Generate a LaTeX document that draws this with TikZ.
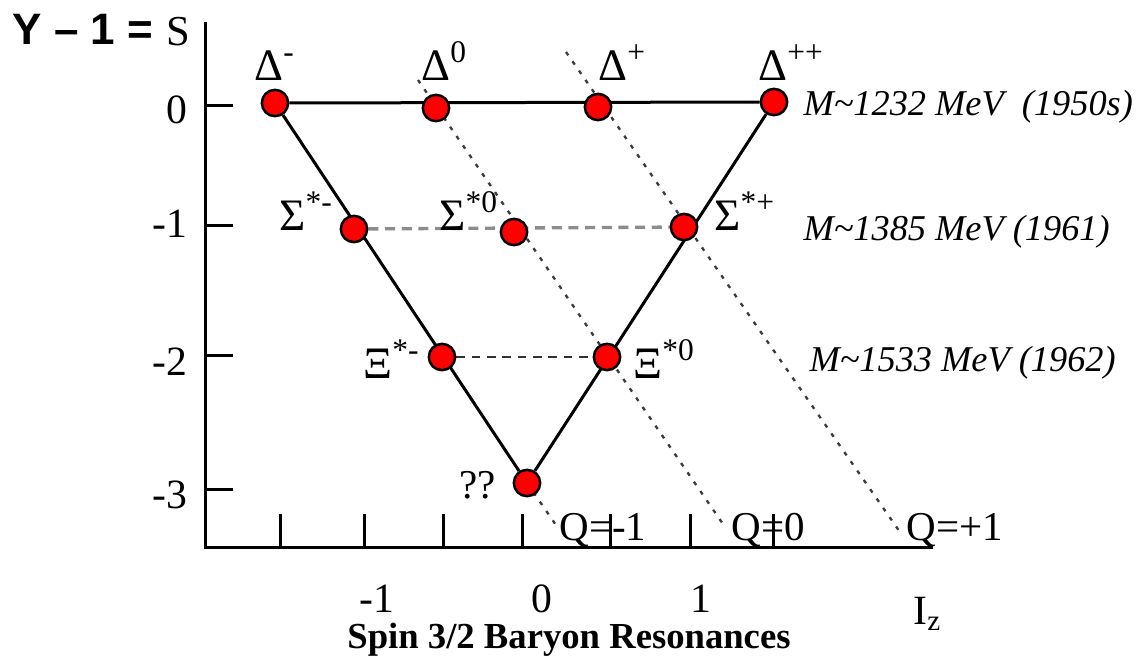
\documentclass[tikz,border=0pt]{standalone}
\usepackage{fontspec}
\setmainfont{Liberation Serif}
\newfontfamily\headfont{Liberation Sans}
\usetikzlibrary{backgrounds}
\definecolor{dotred}{RGB}{255,0,0}
\definecolor{dashgray}{RGB}{140,140,140}
\definecolor{qgray}{RGB}{60,60,60}
\tikzset{
  every picture/.style={line width=0.9pt},
  state/.style={circle, draw=black, fill=dotred, line width=0.75pt, minimum size=7.9pt, inner sep=0pt},
  side/.style={line width=0.9pt},
  sigrow/.style={dashgray, line width=1pt, dash pattern=on 3pt off 2pt},
  xirow/.style={black!80, line width=0.85pt, dash pattern=on 2.6pt off 2pt},
  qline/.style={qgray, line width=0.7pt, dash pattern=on 1.2pt off 2.2pt},
  part/.style={inner sep=0pt, anchor=base west, font=\fontsize{13.5}{14}\selectfont},
  mass/.style={inner sep=0pt, anchor=base west, font=\fontsize{10.9}{12}\selectfont\itshape},
  qlbl/.style={inner sep=0pt, anchor=base west, font=\fontsize{12.3}{13}\selectfont},
  num/.style={inner sep=0pt, font=\fontsize{12.5}{13}\selectfont},
}
\begin{document}
\begin{tikzpicture}[x=0.3pt, y=-0.3pt]
  \useasboundingbox (0,0) rectangle (1142,662);
  % axes
  \draw (205,22) -- (205,547) -- (933,547);
  \foreach \yy in {105,225,355,489} \draw (205,\yy) -- (233,\yy);
  \foreach \xx in {280,364,443,522,610,690,773} \draw (\xx,514) -- (\xx,547);
  \node[inner sep=0pt, anchor=base west, font=\headfont\bfseries\fontsize{13.2}{14}\selectfont] (ylbl) at (11,44) {Y – 1 =};
  \node[inner sep=0pt, anchor=base west, font=\fontsize{12.8}{13}\selectfont] (slbl) at (165,45) {S};
  \node[num, anchor=base east] (y0) at (189,123) {0};
  \node[num, anchor=base east] (y1) at (189,237) {-1};
  \node[num, anchor=base east] (y2) at (189,375) {-2};
  \node[num, anchor=base east] (y3) at (189,508) {-3};
  \node[num, anchor=base] (x1) at (377,612) {-1};
  \node[num, anchor=base] (x0) at (542,612) {0};
  \node[num, anchor=base] (xp) at (701,612) {1};
  \node[num, anchor=base west] (iz) at (912,624) {I\textsubscript{z}};
  \node[inner sep=0pt, anchor=base, font=\bfseries\fontsize{11}{12}\selectfont] (title) at (569,648) {Spin 3/2 Baryon Resonances};

  % decuplet states
  \node[state] (dm)  at (275,103) {};
  \node[state] (dz)  at (436,108) {};
  \node[state] (dp)  at (598,107) {};
  \node[state] (dpp) at (774,102) {};
  \node[state] (sm)  at (354,229) {};
  \node[state] (sz)  at (514,232) {};
  \node[state] (sp)  at (684,227) {};
  \node[state] (xm)  at (442,357) {};
  \node[state] (xz)  at (607,357) {};
  \node[state] (om)  at (527,483) {};

  \coordinate (q0a) at (418,80);
  \coordinate (q0b) at (725,527);
  \coordinate (q1a) at (566,52);
  \coordinate (q1b) at (902,535);
  \coordinate (qmb) at (558,528);

  \begin{scope}[on background layer]
    \draw[side] (dm) -- (dpp);
    \draw[side] (dm) -- (om);
    \draw[side] (dpp) -- (om);
    \draw[sigrow] (sm) -- (sp);
    \draw[xirow] (xm) -- (xz);
    \draw[qline] (q0a) -- (q0b);
    \draw[qline] (q1a) -- (q1b);
    \draw[qline] (om.center) -- (qmb);
  \end{scope}

  % names
  \node[part] (ldm)  at (253,80) {Δ\textsuperscript{-}};
  \node[part] (ldz)  at (420,80) {Δ\textsuperscript{0}};
  \node[part] (ldp)  at (597,80) {Δ\textsuperscript{+}};
  \node[part] (ldpp) at (757,80) {Δ\textsuperscript{++}};
  \node[part] (lsm)  at (278,230) {Σ\textsuperscript{*-}};
  \node[part] (lsz)  at (438,230) {Σ\textsuperscript{*0}};
  \node[part] (lsp)  at (713,230) {Σ\textsuperscript{*+}};
  \node[part] (lxm)  at (362,378) {Ξ\textsuperscript{*-}};
  \node[part] (lxz)  at (632,378) {Ξ\textsuperscript{*0}};
  \node[qlbl] (lom)  at (458,498) {??};

  % masses and charge lines
  \node[mass] (m1) at (802,115) {M\textasciitilde1232 MeV\ \ (1950s)};
  \node[mass] (m2) at (802,240) {M\textasciitilde1385 MeV (1961)};
  \node[mass] (m3) at (808,371) {M\textasciitilde1533 MeV (1962)};
  \node[qlbl] (qm) at (558,540) {Q=-1};
  \node[qlbl] (qz) at (730,540) {Q=0};
  \node[qlbl] (qp) at (905,540) {Q=+1};
\end{tikzpicture}
\end{document}
